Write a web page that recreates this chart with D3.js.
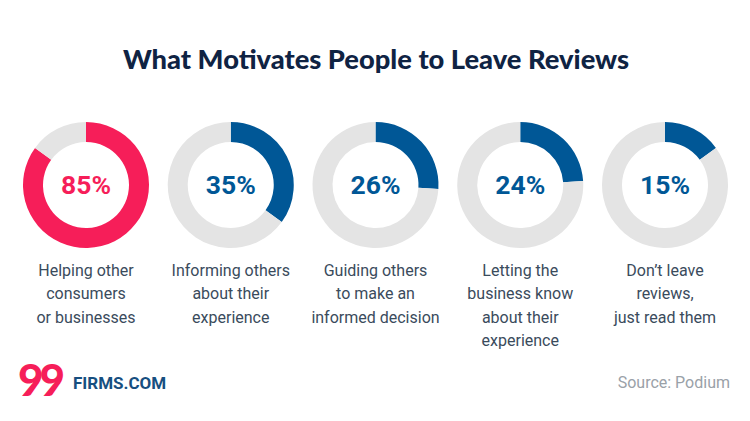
<!DOCTYPE html>
<html>
<head>
<meta charset="utf-8">
<script src="https://cdn.jsdelivr.net/npm/d3@7"></script>
<style>
  html, body { margin: 0; padding: 0; background: #fff; }
</style>
</head>
<body>
<svg id="chart"></svg>
<script>
const title = "What Motivates People to Leave Reviews";
const values = [85, 35, 26, 24, 15];
const labels = [
  ["Helping other", "consumers", "or businesses"],
  ["Informing others", "about their", "experience"],
  ["Guiding others", "to make an", "informed decision"],
  ["Letting the", "business know", "about their", "experience"],
  ["Don\u2019t leave", "reviews,", "just read them"]
];
const colors = ["#f61e59", "#005796", "#005796", "#005796", "#005796"];

const width = 750;
const height = 421;
const outerR = 63;
const innerR = 43;
const cy = 185;

const svg = d3.select("#chart")
              .attr("width", width)
              .attr("height", height);

svg.append("text")
   .attr("x", width / 2 + 1)
   .attr("y", 69)
   .attr("text-anchor", "middle")
   .style("font-family", "Lato")
   .style("font-weight", 900)
   .style("font-size", "27.3px")
   .style("fill", "#0f2343")
   .text(title);

const xScale = d3.scalePoint()
                 .domain(d3.range(values.length))
                 .range([86, 665]);

const pie = d3.pie().sort(null);
const arc = d3.arc().innerRadius(innerR).outerRadius(outerR);

const groups = svg.selectAll(".donut")
                  .data(values)
                  .enter()
                  .append("g")
                  .attr("class", "donut")
                  .attr("transform", (d, i) => `translate(${xScale(i)}, ${cy})`);

groups.each(function (v, i) {
  d3.select(this).selectAll("path")
    .data(pie([v, 100 - v]))
    .enter()
    .append("path")
    .attr("d", arc)
    .attr("fill", (d, j) => j === 0 ? colors[i] : "#e4e4e4");
});

groups.append("text")
      .attr("y", 9)
      .attr("text-anchor", "middle")
      .style("font-family", "Roboto")
      .style("font-weight", 700)
      .style("font-size", "26.5px")
      .style("fill", (d, i) => colors[i])
      .text(d => `${d}%`);

groups.each(function (d, i) {
  const t = d3.select(this).append("text")
              .attr("text-anchor", "middle")
              .style("font-family", "Roboto")
              .style("font-size", "16px")
              .style("fill", "#3a4b5c");
  labels[i].forEach((line, k) => {
    t.append("tspan")
     .attr("x", 0)
     .attr("y", 91 + k * 23.3)
     .text(line);
  });
});

// logo
svg.append("text")
   .attr("x", 18)
   .attr("y", 396)
   .style("font-family", "Lato")
   .style("font-weight", 900)
   .style("font-size", "44px")
   .style("letter-spacing", "-4px")
   .style("fill", "#f61e59")
   .text("99");

svg.append("text")
   .attr("x", 73)
   .attr("y", 389)
   .style("font-family", "Roboto")
   .style("font-weight", 700)
   .style("font-size", "17px")
   .style("fill", "#174f80")
   .text("FIRMS.COM");

svg.append("text")
   .attr("x", 730)
   .attr("y", 388)
   .attr("text-anchor", "end")
   .style("font-family", "Roboto")
   .style("font-size", "16px")
   .style("fill", "#9aa1a8")
   .text("Source: Podium");
</script>
</body>
</html>
